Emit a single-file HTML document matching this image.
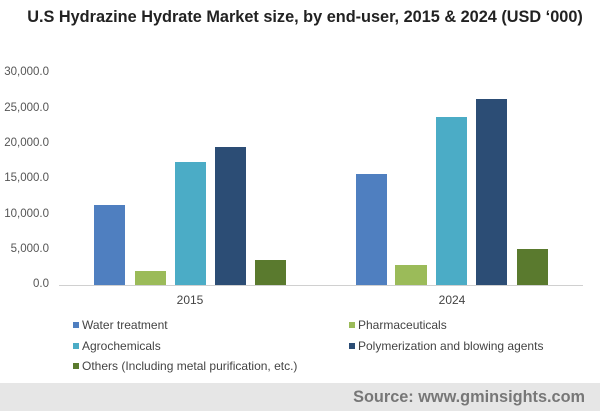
<!DOCTYPE html><html><head><style>
body{margin:0;width:600px;height:411px;background:#fff;font-family:"Liberation Sans",sans-serif;position:relative;overflow:hidden}
.t{position:absolute;white-space:nowrap}
.y{position:absolute;right:551px;font-size:11.5px;color:#555;text-align:right}
.b{position:absolute}
.lg{position:absolute;font-size:12px;color:#444;white-space:nowrap}
.lg i{display:inline-block;width:6px;height:6px;margin-right:3px;vertical-align:1px}
</style></head><body>
<div class="t" style="left:0;width:610px;text-align:center;top:8px;font-size:16.3px;font-weight:bold;color:#222">U.S Hydrazine Hydrate Market size, by end-user, 2015 &amp; 2024 (USD ‘000)</div>
<div class="y" style="top:66px">30,000.0</div>
<div class="y" style="top:102px">25,000.0</div>
<div class="y" style="top:137px">20,000.0</div>
<div class="y" style="top:172px">15,000.0</div>
<div class="y" style="top:208px">10,000.0</div>
<div class="y" style="top:243px">5,000.0</div>
<div class="y" style="top:278px">0.0</div>
<div class="b" style="left:59px;top:285px;width:524px;height:1px;background:#d0d0d0"></div>
<div class="b" style="left:94px;top:205px;width:31px;height:80px;background:#4f7fc0"></div>
<div class="b" style="left:135px;top:271px;width:31px;height:14px;background:#9bbb59"></div>
<div class="b" style="left:175px;top:162px;width:31px;height:123px;background:#4bacc6"></div>
<div class="b" style="left:215px;top:147px;width:31px;height:138px;background:#2c4d75"></div>
<div class="b" style="left:255px;top:260px;width:31px;height:25px;background:#5a7a2e"></div>
<div class="b" style="left:356px;top:174px;width:31px;height:111px;background:#4f7fc0"></div>
<div class="b" style="left:395px;top:265px;width:32px;height:20px;background:#9bbb59"></div>
<div class="b" style="left:436px;top:117px;width:31px;height:168px;background:#4bacc6"></div>
<div class="b" style="left:476px;top:99px;width:31px;height:186px;background:#2c4d75"></div>
<div class="b" style="left:517px;top:249px;width:31px;height:36px;background:#5a7a2e"></div>
<div class="t" style="left:160px;width:60px;text-align:center;top:293px;font-size:12px;color:#444">2015</div>
<div class="t" style="left:422px;width:60px;text-align:center;top:293px;font-size:12px;color:#444">2024</div>
<div class="lg" style="left:73px;top:318px"><i style="background:#4f7fc0"></i>Water treatment</div>
<div class="lg" style="left:349px;top:318px"><i style="background:#9bbb59"></i>Pharmaceuticals</div>
<div class="lg" style="left:73px;top:339px"><i style="background:#4bacc6"></i>Agrochemicals</div>
<div class="lg" style="left:349px;top:339px"><i style="background:#2c4d75"></i>Polymerization and blowing agents</div>
<div class="lg" style="left:73px;top:359px"><i style="background:#5a7a2e"></i>Others (Including metal purification, etc.)</div>
<div class="b" style="left:0;top:383px;width:600px;height:28px;background:#e6e6e6"></div>
<div class="t" style="left:0;width:585px;text-align:right;top:388px;font-size:16.3px;font-weight:bold;color:#777">Source: www.gminsights.com</div>
</body></html>
